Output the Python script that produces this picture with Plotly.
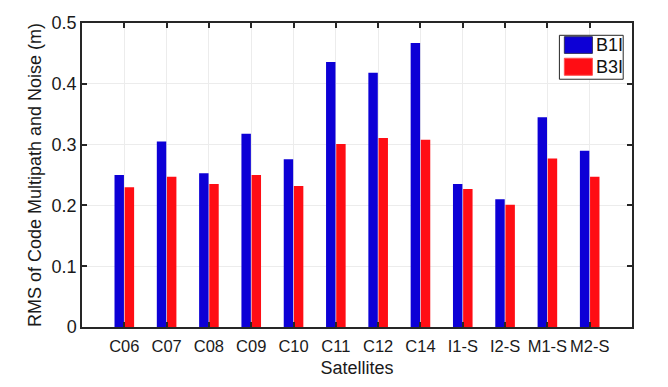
import plotly.graph_objects as go

satellites = ["C06", "C07", "C08", "C09", "C10", "C11", "C12", "C14", "I1-S", "I2-S", "M1-S", "M2-S"]
b1i = [0.250, 0.305, 0.253, 0.318, 0.276, 0.436, 0.418, 0.467, 0.235, 0.210, 0.345, 0.290]
b3i = [0.230, 0.247, 0.235, 0.250, 0.232, 0.301, 0.311, 0.308, 0.227, 0.201, 0.277, 0.247]
series_names = ["B1I", "B3I"]
series_colors = ["#0d00d6", "#ff0d14"]
y_ticks = [0, 0.1, 0.2, 0.3, 0.4, 0.5]
y_ticklabels = ["0", "0.1", "0.2", "0.3", "0.4", "0.5"]

FONT = "Liberation Sans, Arial, sans-serif"
AXC = "#262626"

fig = go.Figure()
for name, vals, col in zip(series_names, [b1i, b3i], series_colors):
    fig.add_trace(go.Bar(x=satellites, y=vals, name=name, showlegend=False,
                         marker=dict(color=col, line=dict(width=0))))

# custom legend (MATLAB style) in paper coordinates
shapes = [dict(type="rect", xref="paper", yref="paper", x0=0.868, x1=0.984, y0=0.815, y1=0.9595,
               line=dict(color=AXC, width=1), fillcolor="white", layer="above")]
annotations = []
sw_y = [(0.900, 0.955), (0.828, 0.884)]
txt_y = [0.9276, 0.8553]
for (y0, y1), ty, name, col in zip(sw_y, txt_y, series_names, series_colors):
    shapes.append(dict(type="rect", xref="paper", yref="paper", x0=0.877, x1=0.928, y0=y0, y1=y1,
                       line=dict(color="#303060" if col == "#0d00d6" else "#ff5050", width=1),
                       fillcolor=col, layer="above"))
    annotations.append(dict(xref="paper", yref="paper", x=0.9315, y=ty, text=name, showarrow=False,
                            xanchor="left", yanchor="middle", font=dict(size=18, color="#111")))

fig.update_layout(
    width=668, height=387,
    margin=dict(l=82, r=36, t=23, b=60),
    paper_bgcolor="white", plot_bgcolor="white",
    barmode="group", bargap=0.52, bargroupgap=0.07,
    font=dict(family=FONT, size=18, color="#1a1a1a"),
    shapes=shapes, annotations=annotations,
    xaxis=dict(
        range=[-1, 12], tickmode="array", tickvals=satellites, ticktext=satellites,
        showline=True, linecolor=AXC, linewidth=1.5, mirror="ticks",
        ticks="inside", ticklen=5, tickwidth=1.5, tickcolor=AXC,
        showgrid=True, gridcolor="#ececec", gridwidth=1,
        title=dict(text="Satellites", standoff=8, font=dict(size=18)),
        tickfont=dict(size=16.5), tickangle=0, ticklabelstandoff=3,
        zeroline=False, automargin=False,
    ),
    yaxis=dict(
        range=[0, 0.5], tickmode="array", tickvals=y_ticks, ticktext=y_ticklabels,
        showline=True, linecolor=AXC, linewidth=1.5, mirror="ticks",
        ticks="inside", ticklen=5, tickwidth=1.5, tickcolor=AXC,
        showgrid=True, gridcolor="#ececec", gridwidth=1,
        title=dict(text="RMS of Code Multipath and Noise (m)", standoff=5, font=dict(size=18)),
        tickfont=dict(size=18), zeroline=False, automargin=False,
    ),
)

fig.write_html("out.html", config={"displayModeBar": False},
               post_script="document.body.style.margin='0px';")
